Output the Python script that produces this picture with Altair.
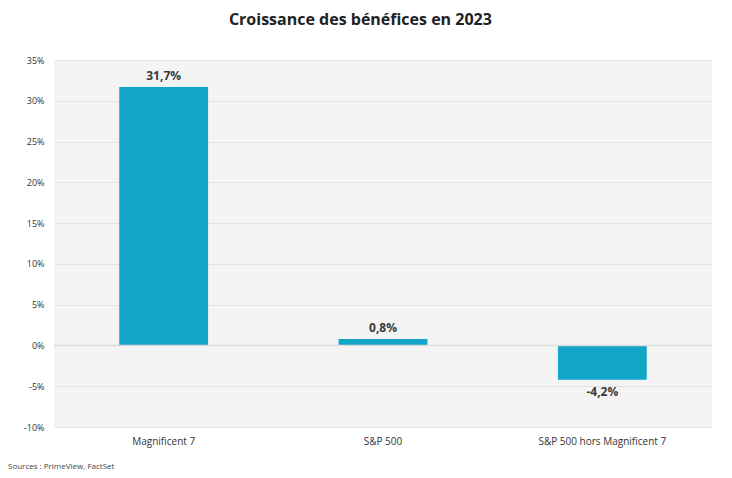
import altair as alt
import pandas as pd

categories = ["Magnificent 7", "S&P 500", "S&P 500 hors Magnificent 7"]
values = [31.7, 0.8, -4.2]
labels = ["31,7%", "0,8%", "-4,2%"]
y_ticks = [-10, -5, 0, 5, 10, 15, 20, 25, 30, 35]

df = pd.DataFrame({"cat": categories, "val": values, "lab": labels})

W, H = 658, 367
FONT = "Open Sans"
BAR = "#12A5C7"

x = alt.X("cat:N", sort=categories, title=None,
          scale=alt.Scale(paddingInner=0.595, paddingOuter=0.2975),
          axis=alt.Axis(labelFont=FONT, labelFontSize=10, labelColor="#333333",
                        ticks=False, domain=False, labelPadding=9, labelAngle=0))
y = alt.Y("val:Q", title=None,
          scale=alt.Scale(domain=[-10, 35], nice=False),
          axis=alt.Axis(values=y_ticks, labelExpr="datum.value + '%'",
                        labelFont=FONT, labelFontSize=9, labelColor="#333333",
                        ticks=False, domain=False, gridColor="#e2e2e2",
                        labelPadding=10))

bars = alt.Chart(df).mark_bar(color=BAR).encode(x=x, y=y, y2=alt.datum(0))

lab_pos = alt.Chart(df).transform_filter("datum.val >= 0").mark_text(
    font=FONT, fontSize=12, fontWeight="bold", color="#3a3a3a",
    baseline="bottom", dy=-4).encode(x=alt.X("cat:N", sort=categories), y="val:Q", text="lab:N")
lab_neg = alt.Chart(df).transform_filter("datum.val < 0").mark_text(
    font=FONT, fontSize=12, fontWeight="bold", color="#3a3a3a",
    baseline="top", dy=7).encode(x=alt.X("cat:N", sort=categories), y="val:Q", text="lab:N")

zero = alt.Chart(pd.DataFrame({"z": [0]})).mark_rule(color="#dcdcdc", strokeWidth=1.5).encode(
    y="z:Q")

source = alt.Chart(pd.DataFrame({"t": ["Sources : PrimeView, FactSet"]})).mark_text(
    font=FONT, fontSize=8, color="#444444", align="left", baseline="middle").encode(
    x=alt.value(-46), y=alt.value(H + 40), text="t:N")

chart = alt.layer(bars, zero, lab_pos, lab_neg, source).properties(
    width=W, height=H,
    padding={"left": 46, "top": 52, "right": 12, "bottom": 52},
    autosize=alt.AutoSizeParams(type="none"),
    background="white",
    title=alt.TitleParams("Croissance des bénéfices en 2023", font=FONT, fontSize=16,
                          fontWeight="bold", color="#222222", anchor="middle",
                          frame="bounds", offset=28),
).configure_view(fill="#F4F4F4", strokeWidth=0)

chart.save("out.html", embed_options={"renderer": "svg", "actions": False})
